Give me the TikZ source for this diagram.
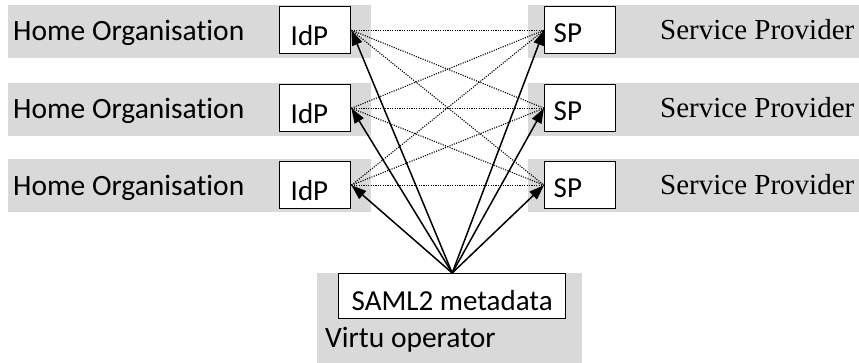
\documentclass[tikz,border=0pt]{standalone}
\usepackage{fontspec}
\usetikzlibrary{arrows.meta}
\newfontfamily\sansf[Ligatures=NoCommon]{Carlito}
\newfontfamily\serf{Liberation Serif}
\definecolor{bandgray}{HTML}{D9D9D9}
\tikzset{
  band/.style={fill=bandgray},
  sanstext/.style={inner sep=0pt, anchor=base west, font=\sansf\fontsize{29.5}{34}\selectfont},
  seriftext/.style={inner sep=0pt, anchor=base west, font=\serf\fontsize{29}{34}\selectfont},
  idpbox/.style={draw, line width=1.4pt, fill=white, anchor=north west, inner ysep=0pt, inner xsep=11pt,
    text width=49pt, align=left, text height=39pt, text depth=8pt, font=\sansf\fontsize{29}{34}\selectfont},
  spbox/.style={draw, line width=1.4pt, fill=white, anchor=north west, inner ysep=0pt, inner xsep=9pt,
    text width=53pt, align=left, text height=36pt, text depth=11pt, font=\sansf\fontsize{29}{34}\selectfont},
  samlbox/.style={draw, line width=1.4pt, fill=white, anchor=north west, inner sep=0pt,
    minimum width=227pt, text height=37pt, text depth=8pt, font=\sansf\fontsize{29}{34}\selectfont},
  arr/.style={line width=1.5pt, -{Triangle[length=15pt,width=10.5pt]}},
  dotline/.style={line width=1.1pt, dash pattern=on 1.1pt off 1.3pt},
}
\begin{document}
\begin{tikzpicture}[x=1pt,y=-1pt]
\useasboundingbox (0,0) rectangle (859,363);
% gray bands
\foreach \o in {0,78,154} {
  \fill[band] (8,5+\o) rectangle (371,58+\o);
  \fill[band] (528,5+\o) rectangle (859,58+\o);
}
\fill[band] (317,273) rectangle (582,363);
% labels
\node[sanstext] (ho1) at (13,41) {Home Organisation};
\node[sanstext] (ho2) at (13,119) {Home Organisation};
\node[sanstext] (ho3) at (13,196) {Home Organisation};
\node[seriftext] (spl1) at (660,40) {Service Provider};
\node[seriftext] (spl2) at (660,118) {Service Provider};
\node[seriftext] (spl3) at (660,195) {Service Provider};
\node[sanstext] (virtu) at (325,347) {Virtu operator};
% boxes
\node[idpbox] (idp1) at (279,6) {IdP};
\node[idpbox] (idp2) at (279,84) {IdP};
\node[idpbox] (idp3) at (279,161) {IdP};
\node[spbox] (sp1) at (544,6) {SP};
\node[spbox] (sp2) at (544,84) {SP};
\node[spbox] (sp3) at (544,161) {SP};
\node[samlbox] (saml) at (338,273) {SAML2 metadata};
% dotted mesh
\foreach \i in {1,2,3} {
  \foreach \j in {1,2,3} {
    \draw[dotline] (idp\i.east) -- (sp\j.west);
  }
}
% arrows
\foreach \i in {1,2,3} {
  \draw[arr] (saml.north) -- (idp\i.east);
  \draw[arr] (saml.north) -- (sp\i.west);
}
\end{tikzpicture}
\end{document}
